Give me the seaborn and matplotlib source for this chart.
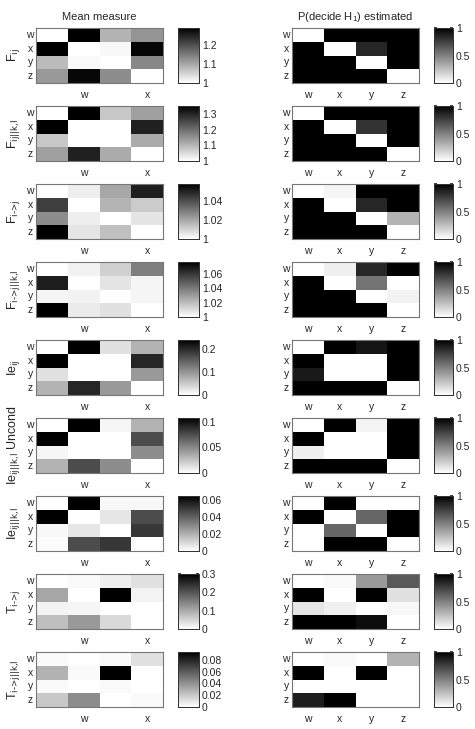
import numpy as np
import pandas as pd
import matplotlib
matplotlib.use("Agg")
import matplotlib.pyplot as plt
import seaborn as sns

sns.set_theme(style="white")
plt.rcParams['font.family'] = ['Liberation Sans', 'DejaVu Sans']
plt.rcParams['mathtext.default'] = 'regular'

nodes = ['w', 'x', 'y', 'z']

row_labels = [
    r"F$_{\text{ij}}$", r"F$_{\text{ij||k,l}}$", r"F$_{\text{i->j}}$", r"F$_{\text{i->j||k,l}}$",
    r"Ie$_{\text{ij}}$", r"Ie$_{\text{ij||k,l}}$ Uncond", r"Ie$_{\text{ij||k,l}}$",
    r"T$_{\text{i->j}}$", r"T$_{\text{i->j||k,l}}$",
]

# mean measure matrices (rows = w,x,y,z ; cols = w,x,y,z)
f_ij = [[1.000, 1.290, 1.087, 1.122],
        [1.290, 1.000, 1.009, 1.284],
        [1.078, 1.006, 1.000, 1.136],
        [1.116, 1.281, 1.130, 1.000]]
f_ij_kl = [[1.000, 1.350, 1.077, 1.130],
           [1.350, 1.000, 1.000, 1.305],
           [1.077, 1.000, 1.000, 1.115],
           [1.130, 1.305, 1.115, 1.000]]
f_i_j = [[1.000, 1.004, 1.020, 1.051],
         [1.0435, 1.000, 1.017, 1.012],
         [1.026, 1.004, 1.000, 1.006],
         [1.058, 1.006, 1.0145, 1.000]]
f_i_j_kl = [[1.000, 1.004, 1.014, 1.038],
            [1.067, 1.000, 1.008, 1.003],
            [1.003, 1.004, 1.000, 1.003],
            [1.076, 1.006, 1.009, 1.000]]
ie_ij = [[0.000, 0.240, 0.029, 0.072],
         [0.240, 0.000, 0.000, 0.204],
         [0.029, 0.000, 0.000, 0.096],
         [0.072, 0.204, 0.096, 0.000]]
ie_uncond = [[0.000, 0.107, 0.004, 0.032],
             [0.107, 0.000, 0.000, 0.075],
             [0.004, 0.000, 0.000, 0.048],
             [0.032, 0.075, 0.048, 0.000]]
ie_ij_kl = [[0.000, 0.065, 0.002, 0.002],
            [0.065, 0.000, 0.0065, 0.0455],
            [0.002, 0.0065, 0.000, 0.051],
            [0.001, 0.0455, 0.051, 0.000]]
t_i_j = [[0.000, 0.006, 0.018, 0.036],
         [0.105, 0.000, 0.300, 0.015],
         [0.015, 0.012, 0.000, 0.000],
         [0.075, 0.120, 0.045, 0.000]]
t_i_j_kl = [[0.002, 0.000, 0.002, 0.011],
            [0.028, 0.002, 0.093, 0.000],
            [0.002, 0.000, 0.002, 0.000],
            [0.020, 0.042, 0.000, 0.002]]

# P(decide H1) estimated
p_f_ij = [[0, 1, 1, 1], [1, 0, 0.85, 1], [1, 1, 0, 1], [1, 1, 1, 0]]
p_f_ij_kl = [[0, 1, 1, 1], [1, 0, 0.8, 1], [1, 1, 0, 1], [1, 1, 1, 0]]
p_f_i_j = [[0, 0.04, 1, 1], [1, 0, 0.85, 1], [1, 1, 0, 0.3], [1, 1, 1, 0]]
p_f_i_j_kl = [[0, 0.06, 0.85, 1], [1, 0, 0.55, 0], [1, 1, 0, 0.05], [1, 1, 1, 0]]
p_ie_ij = [[0, 1, 0.92, 1], [1, 0, 0, 1], [0.9, 0, 0, 1], [1, 1, 1, 0]]
p_ie_uncond = [[0, 1, 0.05, 1], [1, 0, 0, 1], [0.06, 0, 0, 1], [1, 1, 1, 0]]
p_ie_ij_kl = [[0, 1, 0, 0], [1, 0, 0.6, 1], [0, 0.6, 0, 1], [0, 1, 1, 0]]
p_t_i_j = [[0, 0.02, 0.4, 0.65], [1, 0, 1, 0.12], [0.1, 0.06, 0, 0.03], [1, 1, 0.95, 0]]
p_t_i_j_kl = [[0, 0.02, 0, 0.3], [1, 0, 1, 0], [0, 0, 0, 0], [0.88, 1, 0, 0]]

mean_mats = [f_ij, f_ij_kl, f_i_j, f_i_j_kl, ie_ij, ie_uncond, ie_ij_kl, t_i_j, t_i_j_kl]
prob_mats = [p_f_ij, p_f_ij_kl, p_f_i_j, p_f_i_j_kl, p_ie_ij, p_ie_uncond, p_ie_ij_kl, p_t_i_j, p_t_i_j_kl]

cbar_ticks_left = [[1, 1.1, 1.2], [1, 1.1, 1.2, 1.3], [1, 1.02, 1.04],
                   [1, 1.02, 1.04, 1.06], [0, 0.1, 0.2], [0, 0.05, 0.1],
                   [0, 0.02, 0.04, 0.06], [0, 0.1, 0.2, 0.3],
                   [0, 0.02, 0.04, 0.06, 0.08]]
cbar_ticks_right = [0, 0.5, 1]

W, H = 475, 729
fig = plt.figure(figsize=(W / 100, H / 100), dpi=100)


def box(x, y, w, h):
    return [x / W, 1 - (y + h) / H, w / W, h / H]


def style_heat(ax, xt, xl):
    ax.set_xticks(xt)
    ax.set_xticklabels(xl, rotation=0, fontsize=7.5)
    ax.set_yticks(np.arange(4) + 0.5)
    ax.set_yticklabels(nodes, rotation=0, fontsize=7.5)
    ax.xaxis.set_ticks_position('bottom')
    ax.tick_params(axis='both', direction='in', length=2, color='#888888',
                   top=True, right=True, bottom=True, left=True)
    ax.tick_params(axis='x', pad=5)
    ax.tick_params(axis='y', pad=2)
    for s in ax.spines.values():
        s.set_visible(True)
        s.set_color('#777777')
        s.set_linewidth(0.8)
    ax.set_xlabel('')


def style_cbar(cax, ticks):
    cax.set_yticks(ticks)
    cax.set_yticklabels([f"{t:g}" for t in ticks], fontsize=7.5)
    cax.tick_params(direction='in', length=2, right=True, left=True, pad=2)
    for s in cax.spines.values():
        s.set_visible(True)
        s.set_color('#333333')
        s.set_linewidth(0.7)


for i in range(9):
    top = 28 + i * 78
    axl = fig.add_axes(box(36, top, 127, 55))
    caxl = fig.add_axes(box(178, top, 21, 55))
    axr = fig.add_axes(box(292, top, 127, 55))
    caxr = fig.add_axes(box(434, top, 19, 55))

    dfl = pd.DataFrame(mean_mats[i], index=nodes, columns=nodes)
    dfr = pd.DataFrame(prob_mats[i], index=nodes, columns=nodes)

    sns.heatmap(dfl, ax=axl, cmap='gray_r', cbar_ax=caxl, linewidths=0)
    sns.heatmap(dfr, ax=axr, cmap='gray_r', vmin=0, vmax=1, cbar_ax=caxr, linewidths=0)

    style_heat(axl, [1.5, 3.5], ['w', 'x'])
    style_heat(axr, np.arange(4) + 0.5, nodes)
    style_cbar(caxl, cbar_ticks_left[i])
    style_cbar(caxr, cbar_ticks_right)

    axl.set_ylabel(row_labels[i], fontsize=9, labelpad=3)
    axr.set_ylabel('')

    if i == 0:
        axl.set_title("Mean measure", fontsize=8, pad=6)
        axr.set_title("P(decide H$_1$) estimated", fontsize=8, pad=6)

fig.savefig("out.png", dpi=100, facecolor='white')
